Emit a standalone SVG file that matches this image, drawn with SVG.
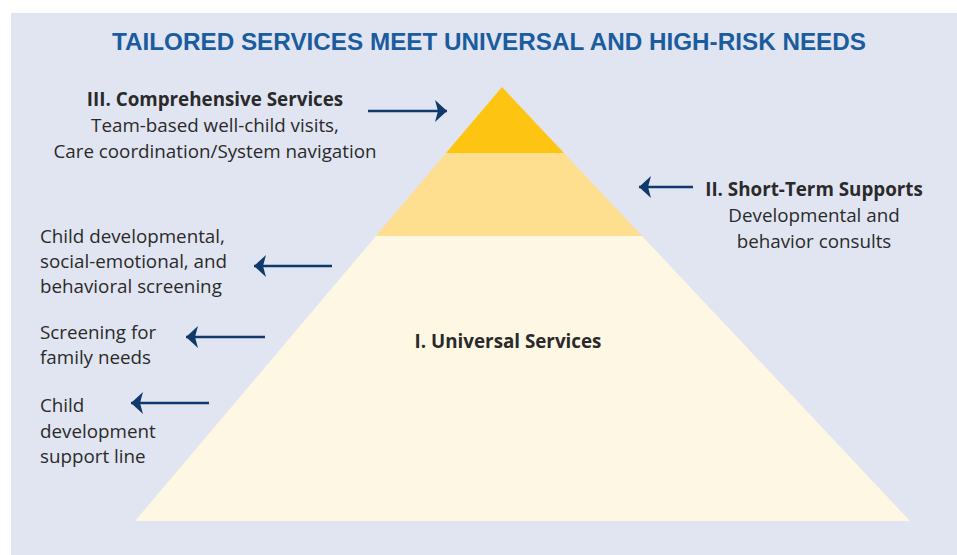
<svg xmlns="http://www.w3.org/2000/svg" width="957" height="555" viewBox="0 0 957 555">
<defs>
<style>
.t{font-family:"Open Sans",Lato,"Liberation Sans",sans-serif;font-size:18.8px;fill:#2a2a2a}
.b{font-weight:bold}
.c{text-anchor:middle}
.arr{stroke:#0f3a6b;stroke-width:2.4;fill:none}
</style>
<marker id="ah" markerWidth="13" markerHeight="22" refX="12" refY="11" orient="auto" markerUnits="userSpaceOnUse">
<path d="M0,0 L12,11 L0,22 L3,11 Z" fill="#0f3a6b"/>
</marker>
</defs>
<rect x="0" y="0" width="957" height="555" fill="#ffffff"/>
<rect x="11" y="13" width="946" height="542" fill="#e1e5f1"/>
<text x="489" y="50" text-anchor="middle" font-family="'Liberation Sans Narrow','Liberation Sans',sans-serif" font-weight="bold" font-size="23" fill="#1b5c9f" textLength="754" lengthAdjust="spacingAndGlyphs">TAILORED SERVICES MEET UNIVERSAL AND HIGH-RISK NEEDS</text>
<g id="tier1">
<polygon points="135,521 376,236 642,236 910,521" fill="#fef7e3"/>
<text class="t b c" x="508" y="348">I. Universal Services</text>
</g>
<g id="tier2">
<polygon points="376,236 446,153 564,153 642,236" fill="#fede8f"/>
</g>
<g id="tier3">
<polygon points="446,153 502,87 564,153" fill="#fdc512"/>
</g>
<g id="label3">
<text class="t b c" x="215" y="106">III. Comprehensive Services</text>
<text class="t c" x="215" y="132">Team-based well-child visits,</text>
<text class="t c" x="215" y="158">Care coordination/System navigation</text>
</g>
<g id="label2">
<text class="t b c" x="814" y="196">II. Short-Term Supports</text>
<text class="t c" x="814" y="222">Developmental and</text>
<text class="t c" x="814" y="248">behavior consults</text>
</g>
<g id="label-screening">
<text class="t" x="40" y="243">Child developmental,</text>
<text class="t" x="40" y="268">social-emotional, and</text>
<text class="t" x="40" y="293">behavioral screening</text>
</g>
<g id="label-family">
<text class="t" x="40" y="339">Screening for</text>
<text class="t" x="40" y="364">family needs</text>
</g>
<g id="label-line">
<text class="t" x="40" y="412">Child</text>
<text class="t" x="40" y="438">development</text>
<text class="t" x="40" y="463">support line</text>
</g>
<g id="connectors">
<line class="arr" x1="368" y1="111" x2="447" y2="111" marker-end="url(#ah)"/>
<line class="arr" x1="693" y1="187" x2="639" y2="187" marker-end="url(#ah)"/>
<line class="arr" x1="332" y1="266" x2="254" y2="266" marker-end="url(#ah)"/>
<line class="arr" x1="265" y1="337" x2="186" y2="337" marker-end="url(#ah)"/>
<line class="arr" x1="209" y1="403" x2="131" y2="403" marker-end="url(#ah)"/>
</g>
</svg>
